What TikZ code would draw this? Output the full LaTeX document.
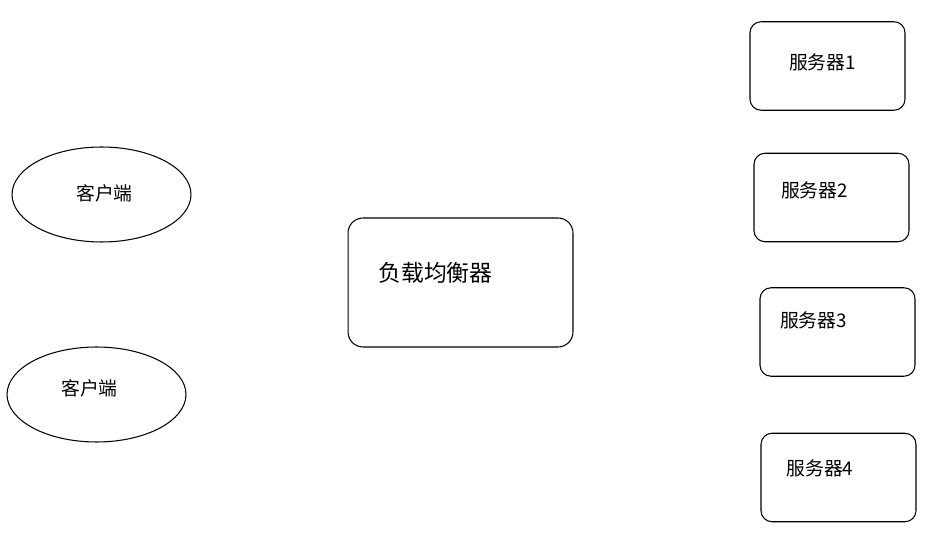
\documentclass[tikz,border=0pt]{standalone}
\usepackage{fontspec}
\setmainfont{Noto Sans CJK SC}
\usetikzlibrary{shapes.geometric}

\begin{document}
\begin{tikzpicture}[x=0.02cm, y=-0.02cm, line width=0.6pt,
    client/.style={draw, ellipse, minimum width=3.58cm, minimum height=1.9cm},
    server/.style={draw, rounded corners=0.22cm, minimum width=3.1cm, minimum height=1.77cm},
    label/.style={inner sep=0pt, font=\fontsize{10.7}{12}\selectfont}]
            \useasboundingbox (0,0) rectangle (936,533);
            % Clientes
            \node[client] (c1) at (101.5,194.5) {};
            \node[client] (c2) at (96.5,394.5) {};
            \node[label] (c1text) at (104.5,193) {客户端};
            \node[label] (c2text) at (89.5,388) {客户端};

            % Balanceador
            \node[draw, rounded corners=0.3cm, minimum width=4.5cm, minimum height=2.58cm] (lb) at (460.5,282.5) {};
            \node[inner sep=0pt, font=\fontsize{13}{15}\selectfont] (lbtext) at (435.5,273) {负载均衡器};

            % Servidores
            \node[server] (s1) at (827.5,66) {};
            \node[server] (s2) at (831.5,197.5) {};
            \node[server] (s3) at (837.5,332) {};
            \node[server] (s4) at (838.5,477.5) {};
            \node[label] (s1text) at (822.5,62) {服务器1};
            \node[label] (s2text) at (814.5,190) {服务器2};
            \node[label] (s3text) at (813.5,320) {服务器3};
            \node[label] (s4text) at (820,468) {服务器4};
          \end{tikzpicture}
\end{document}
